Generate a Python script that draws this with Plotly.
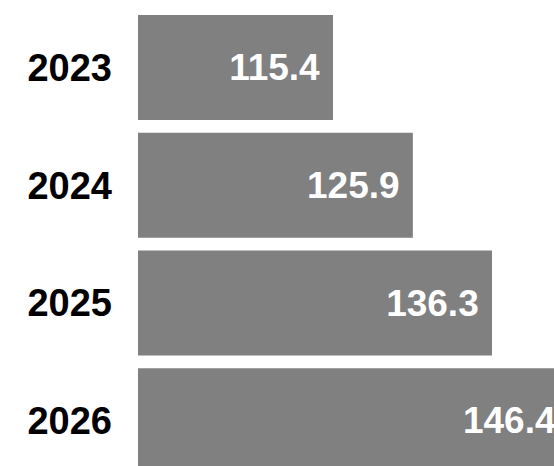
import plotly.graph_objects as go

years = ["2023", "2024", "2025", "2026"]
values = [115.4, 125.9, 136.3, 146.4]
labels = ["115.4", "125.9", "136.3", "146.4"]

bar_color = "#808080"
font_family = "Liberation Sans, Arial, Helvetica, sans-serif"

fig = go.Figure()
fig.add_trace(go.Bar(
    x=values,
    y=years,
    orientation="h",
    marker=dict(color=bar_color, line=dict(width=0)),
    text=[lab + "\u00a0" for lab in labels],
    textposition="inside",
    insidetextanchor="end",
    textangle=0,
    constraintext="none",
    insidetextfont=dict(family=font_family, size=37, color="white", weight="bold"),
    hoverinfo="skip",
))

fig.update_layout(
    width=554, height=466,
    margin=dict(l=138, r=0, t=0, b=0),
    paper_bgcolor="white", plot_bgcolor="white",
    bargap=0.108,
    showlegend=False,
    xaxis=dict(range=[89.77, 144.45], visible=False, fixedrange=True),
    yaxis=dict(
        type="category",
        range=[3.384, -0.573],
        showgrid=False, zeroline=False, showline=False,
        ticks="", ticklabelstandoff=25,
        tickfont=dict(family=font_family, size=38, color="black", weight="bold"),
        fixedrange=True,
    ),
)

fig.write_html(
    "out.html",
    config={"displayModeBar": False},
    post_script="document.body.style.margin='0';document.body.style.overflow='hidden';",
)
